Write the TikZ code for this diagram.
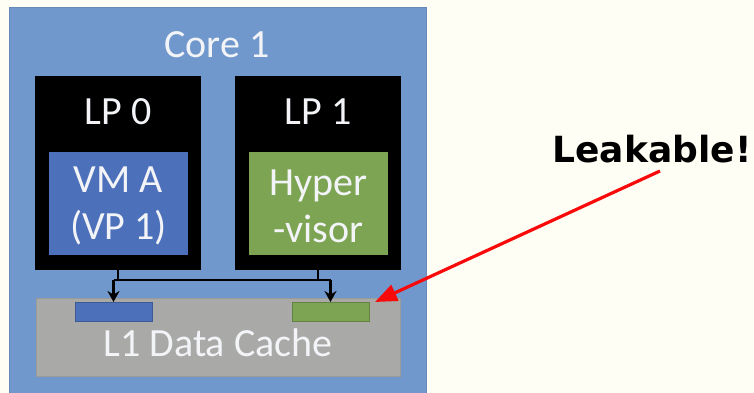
\documentclass[tikz,border=0pt]{standalone}
\usepackage{fontspec}
\setmainfont{Carlito}
\newfontfamily\leakfont{DejaVu Sans}
\usetikzlibrary{arrows.meta}
\definecolor{bgc}{HTML}{FEFEF5}
\definecolor{coreblue}{HTML}{7198CC}
\definecolor{vmblue}{HTML}{4C70B9}
\definecolor{hypgreen}{HTML}{7DA452}
\definecolor{cachegray}{HTML}{A9A9A7}
\definecolor{cacheedge}{HTML}{9A9A98}
\definecolor{txtw}{HTML}{F2F4F8}
\definecolor{leakred}{HTML}{F80A0A}
\tikzset{
  box/.style={rectangle, inner sep=0pt, outer sep=0pt},
  lbl/.style={inner sep=0pt, text=txtw, font=\fontsize{40}{47}\selectfont, align=center},
  conn/.style={line width=2.8pt, draw=black},
  tipc/.style={-{Stealth[length=11pt,width=12pt]}},
}
\begin{document}
\begin{tikzpicture}[x=1pt,y=-1pt]
\useasboundingbox (0,0) rectangle (754,393);
\fill[bgc] (0,0) rectangle (754,393);
% core
\node[box, fill=coreblue, draw=coreblue!90!black, line width=0.6pt, minimum width=417pt, minimum height=386pt] (core) at (217.5,200) {};
\node[lbl] (coret) at (217,45) {Core 1};
% logical processors
\node[box, fill=black, minimum width=166pt, minimum height=194pt] (lp0) at (118,173) {};
\node[box, fill=black, minimum width=166pt, minimum height=194pt] (lp1) at (318,173) {};
\node[lbl] (lp0t) at (118,112) {LP 0};
\node[lbl] (lp1t) at (318,112) {LP 1};
\node[box, fill=vmblue, minimum width=139pt, minimum height=103pt] (vma) at (118.5,203.5) {};
\node[box, fill=hypgreen, minimum width=139pt, minimum height=103pt] (hyp) at (318.5,203.5) {};
\node[lbl] (vmat) at (118.5,206) {VM A\\(VP 1)};
\node[lbl] (hypt) at (318.5,206) {Hyper\\-visor};
% cache
\node[box, fill=cachegray, draw=cacheedge, line width=0.8pt, minimum width=364pt, minimum height=78pt] (cache) at (218,337) {};
\node[lbl] (cachet) at (218,343) {L1 Data Cache};
\node[box, fill=vmblue, draw=vmblue!80!black, line width=0.6pt, minimum width=77pt, minimum height=19pt] (bar0) at (113.5,311.5) {};
\node[box, fill=hypgreen, draw=hypgreen!80!black, line width=0.6pt, minimum width=77pt, minimum height=19pt] (bar1) at (330.5,311.5) {};
% connectors
\coordinate (h0) at (113.5,280);
\coordinate (h1) at (330.5,280);
\draw[conn] (h0) -- (h1);
\draw[conn] (lp0.south) -- (lp0.south |- h0);
\draw[conn] (lp1.south) -- (lp1.south |- h1);
\draw[conn, tipc] (h0) -- (bar0.north);
\draw[conn, tipc] (h1) -- (bar1.north);
% leakable
\node[inner sep=0pt, font=\leakfont\bfseries\fontsize{36}{40}\selectfont] (leak) at (652,149) {Leakable!};
\coordinate (leakfrom) at (660,171);
\coordinate (leakto) at (375,302);
\draw[leakred, line width=3.2pt, -{Triangle[length=22pt,width=17pt]}] (leakfrom) -- (leakto);
\end{tikzpicture}
\end{document}
